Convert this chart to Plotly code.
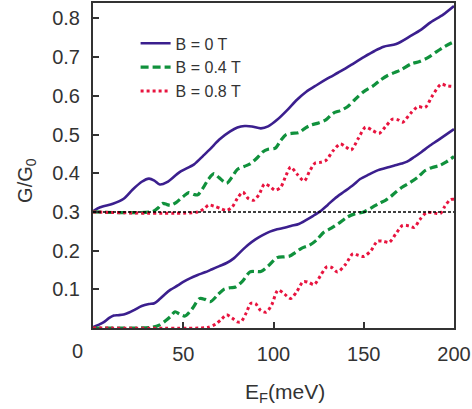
import plotly.graph_objects as go

# ---------------- data ----------------
# Lower set
e_b0_low = [0, 3, 6, 9, 11.5, 14, 17, 20, 23, 27, 31, 34, 37, 40, 43, 47, 50, 54, 58, 62, 66, 70, 74, 78,
            82, 86, 90, 94, 98, 102, 106, 110, 114, 118, 122, 126, 130, 134, 139, 144, 148, 153, 158,
            163, 167, 171, 174, 178, 182, 186, 191, 195, 200]
g_b0_low = [0.002, 0.008, 0.015, 0.026, 0.032, 0.033, 0.035, 0.040, 0.047, 0.057, 0.062, 0.064, 0.075,
            0.088, 0.099, 0.110, 0.119, 0.129, 0.137, 0.144, 0.152, 0.160, 0.168, 0.180, 0.198, 0.215,
            0.229, 0.240, 0.249, 0.255, 0.259, 0.264, 0.269, 0.279, 0.290, 0.302, 0.318, 0.335, 0.352,
            0.369, 0.385, 0.397, 0.408, 0.415, 0.420, 0.425, 0.430, 0.442, 0.455, 0.469, 0.485, 0.498, 0.514]

e_b04_low = [0, 33, 37, 40, 43, 45.5, 48, 51, 55, 59, 62, 65, 69, 72.5, 76, 79, 83, 87, 90, 93, 97, 102,
             106, 109, 112, 115.5, 120, 124, 128, 132, 136, 141, 145, 150, 154, 158, 162, 165, 168, 171,
             176, 180, 184, 188, 192, 196, 200]
g_b04_low = [0.0, 0.002, 0.008, 0.018, 0.030, 0.042, 0.036, 0.031, 0.050, 0.076, 0.074, 0.068, 0.085,
             0.100, 0.104, 0.106, 0.122, 0.145, 0.146, 0.146, 0.160, 0.182, 0.184, 0.186, 0.195, 0.206,
             0.214, 0.228, 0.248, 0.258, 0.270, 0.287, 0.295, 0.300, 0.310, 0.321, 0.330, 0.340, 0.352,
             0.363, 0.377, 0.390, 0.407, 0.415, 0.420, 0.430, 0.443]

e_b08_low = [0, 60, 64, 68, 71, 74, 77, 80, 82, 85, 87.5, 90, 93, 96, 99, 102.5, 106, 109.5, 113, 116.5,
             119.5, 122.5, 126, 129.5, 132, 135.5, 140, 144, 147, 150, 154, 157.5, 161, 164, 168, 171.5,
             175, 178, 181, 185, 189, 192.5, 195, 198, 200]
g_b08_low = [0.0, 0.0, 0.002, 0.010, 0.022, 0.034, 0.026, 0.016, 0.016, 0.040, 0.064, 0.063, 0.045,
             0.041, 0.060, 0.098, 0.088, 0.076, 0.095, 0.120, 0.118, 0.112, 0.135, 0.158, 0.157, 0.145,
             0.165, 0.192, 0.188, 0.185, 0.200, 0.224, 0.224, 0.221, 0.245, 0.265, 0.264, 0.260, 0.280,
             0.299, 0.297, 0.296, 0.315, 0.332, 0.333]

# Upper set
e_b0_up = [0, 4, 11, 17, 22, 27, 31, 34, 37, 41, 48, 56, 61, 65, 70, 76, 80, 84, 88, 93, 97, 102, 108,
           113, 118, 124, 130, 137, 143, 150, 156, 161, 168, 176, 182, 187, 194, 200]
g_b0_up = [0.302, 0.312, 0.321, 0.334, 0.358, 0.378, 0.386, 0.381, 0.371, 0.377, 0.403, 0.423, 0.445,
           0.463, 0.487, 0.508, 0.518, 0.522, 0.521, 0.516, 0.521, 0.538, 0.565, 0.590, 0.610, 0.628,
           0.645, 0.663, 0.680, 0.700, 0.716, 0.727, 0.734, 0.755, 0.772, 0.790, 0.810, 0.832]

e_b04_up = [0, 33, 36, 38.5, 41, 43, 46, 50, 53, 56, 58, 61, 64, 67, 70, 74, 77, 80, 84, 87, 91, 94, 97,
            101, 104, 107, 110, 114, 118, 121, 125, 129, 133, 137, 141, 145, 150, 155, 159, 163, 167,
            171, 176, 181, 186, 190, 195, 200]
g_b04_up = [0.300, 0.301, 0.310, 0.322, 0.319, 0.317, 0.324, 0.340, 0.350, 0.345, 0.344, 0.362, 0.385,
            0.399, 0.388, 0.374, 0.390, 0.410, 0.418, 0.424, 0.440, 0.455, 0.462, 0.465, 0.485, 0.500,
            0.503, 0.505, 0.518, 0.525, 0.530, 0.538, 0.555, 0.562, 0.572, 0.590, 0.611, 0.625, 0.640,
            0.652, 0.660, 0.668, 0.682, 0.689, 0.700, 0.713, 0.728, 0.740]

e_b08_up = [0, 58, 62, 64, 67, 71, 74, 77, 80, 83, 86, 89, 92, 95, 98, 101, 104, 107, 109.5, 113, 117,
            120, 123, 126, 129, 133, 137, 140, 143, 147, 151, 155, 158.5, 162, 166, 169, 171.5, 176, 180,
            184, 188, 192.8, 196, 200]
g_b08_up = [0.300, 0.300, 0.310, 0.318, 0.315, 0.308, 0.304, 0.312, 0.335, 0.351, 0.335, 0.330, 0.345,
            0.372, 0.366, 0.356, 0.364, 0.395, 0.416, 0.398, 0.380, 0.405, 0.426, 0.428, 0.433, 0.458,
            0.476, 0.468, 0.460, 0.490, 0.519, 0.510, 0.503, 0.520, 0.540, 0.538, 0.532, 0.555, 0.572,
            0.570, 0.600, 0.630, 0.626, 0.624]

offset_level = 0.3
series_names = ["B = 0 T", "B = 0.4 T", "B = 0.8 T"]
x_ticks = [50, 100, 150, 200]
y_ticks = [0.1, 0.2, 0.3, 0.4, 0.5, 0.6, 0.7, 0.8]

# ---------------- styles ----------------
PURPLE = "#3b1f8e"
GREEN = "#10913c"
RED = "#e8143f"
FONT = "Liberation Sans, Arial, sans-serif"
AX = "#333333"

styles = [
    dict(color=PURPLE, width=2.6, dash="solid"),
    dict(color=GREEN, width=3.2, dash="8px,4px"),
    dict(color=RED, width=3.0, dash="3px,3px"),
]

fig = go.Figure()

# reference line
fig.add_shape(type="line", xref="paper", x0=0, x1=1, yref="y", y0=offset_level, y1=offset_level,
              line=dict(color="black", width=1.5, dash="3px,2px"), layer="above")

sets_low = [(e_b0_low, g_b0_low), (e_b04_low, g_b04_low), (e_b08_low, g_b08_low)]
sets_up = [(e_b0_up, g_b0_up), (e_b04_up, g_b04_up), (e_b08_up, g_b08_up)]

for i, (xs, ys) in enumerate(sets_up):
    fig.add_trace(go.Scatter(x=xs, y=ys, mode="lines", name=series_names[i], legendgroup=str(i),
                             line=dict(shape="spline", smoothing=0.8, **styles[i]), showlegend=True))
for i, (xs, ys) in enumerate(sets_low):
    fig.add_trace(go.Scatter(x=xs, y=ys, mode="lines", name=series_names[i], legendgroup=str(i),
                             line=dict(shape="spline", smoothing=0.8, **styles[i]), showlegend=False))

fig.update_layout(
    width=472, height=409,
    margin=dict(l=93, r=18, t=1, b=81),
    paper_bgcolor="white", plot_bgcolor="white",
    font=dict(family=FONT, size=20, color=AX),
    showlegend=True,
    legend=dict(x=0.118, y=0.928, xanchor="left", yanchor="top", bgcolor="rgba(0,0,0,0)",
                font=dict(family=FONT, size=16, color=AX), tracegroupgap=0, itemwidth=30),
    xaxis=dict(range=[0, 200], tickvals=x_ticks, ticktext=[str(v) for v in x_ticks],
               ticks="inside", ticklen=6, tickwidth=1.5, tickcolor=AX,
               showline=True, linecolor=AX, linewidth=2, mirror=True,
               showgrid=False, zeroline=False, ticklabelstandoff=7,
               tickfont=dict(size=20, color=AX)),
    yaxis=dict(range=[0, 0.84], tickvals=y_ticks, ticktext=["%.1f" % v for v in y_ticks],
               ticks="inside", ticklen=6, tickwidth=1.5, tickcolor=AX,
               showline=True, linecolor=AX, linewidth=2, mirror=True,
               showgrid=False, zeroline=False, ticklabelstandoff=7,
               tickfont=dict(size=20, color=AX)),
)

fig.add_annotation(text="0", xref="paper", yref="paper", x=(77 - 93) / 361, y=-(351 - 328) / 327,
                   showarrow=False, font=dict(size=20, color=AX), xanchor="center", yanchor="middle")
fig.add_annotation(text="E<sub>F</sub>(meV)", xref="paper", yref="paper", x=(285 - 93) / 361,
                   y=-(393 - 328) / 327, showarrow=False, font=dict(size=21, color=AX),
                   xanchor="center", yanchor="middle")
fig.add_annotation(text="G/G<sub>0</sub>", xref="paper", yref="paper", x=(27 - 93) / 361,
                   y=(328 - 180) / 327, showarrow=False, font=dict(size=20, color=AX), textangle=-90,
                   xanchor="center", yanchor="middle")

fig.write_html("out.html", config={"displayModeBar": False},
               post_script="document.body.style.margin='0';")
